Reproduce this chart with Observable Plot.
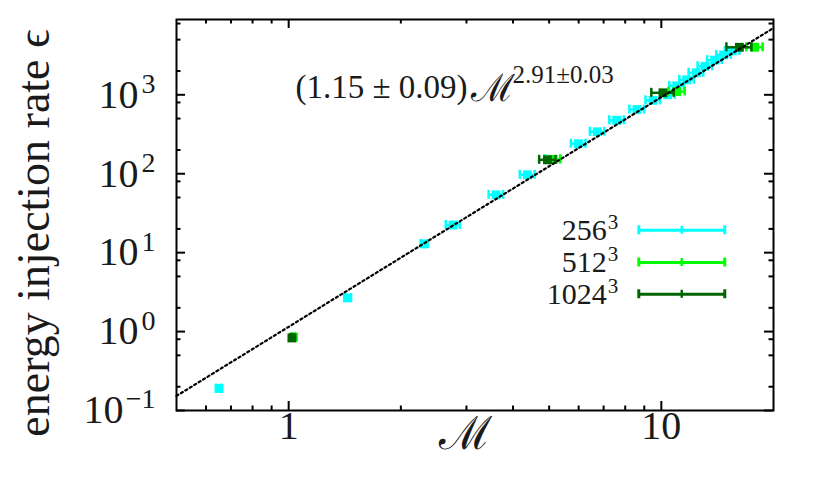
<!DOCTYPE html>
<html><head><meta charset="utf-8">
<script src="https://cdn.jsdelivr.net/npm/d3@7"></script>
<script src="https://cdn.jsdelivr.net/npm/@observablehq/plot@0.6"></script>
<style>
body{margin:0;background:#fff}
#chart svg{display:block}
</style>
</head><body><div id="chart"></div>
<script>
// ---- data ----
const M256   = [0.65, 1.44, 2.31, 2.76, 3.60, 4.37, 5.13, 5.99, 6.73, 7.59, 8.6, 9.5, 10.4, 11.0, 11.7, 12.4, 13.1, 13.9, 14.7, 15.5];
const eps256 = [0.19, 2.67, 12.9, 22.4, 54, 97, 152, 240, 340, 475, 650, 850, 1000, 1300, 1550, 1900, 2300, 2750, 3200, 3600];
const dM256  = [0.01, 0.03, 0.05, 0.12, 0.16, 0.2, 0.23, 0.27, 0.3, 0.34, 0.39, 0.43, 0.47, 0.5, 0.53, 0.56, 0.59, 0.63, 0.66, 0.7];

const M512   = [1.03, 5.1, 11.0, 17.8];
const eps512 = [0.85, 152, 1100, 4000];
const dM512  = [0.01, 0.25, 0.55, 0.9];

const M1024   = [1.02, 4.95, 10.1, 16.2];
const eps1024 = [0.83, 150, 1060, 4000];
const dM1024  = [0.01, 0.25, 0.7, 1.25];

const seriesLabels = ["256", "512", "1024"];
const seriesExp = "3";
const seriesColors = ["#00ffff", "#00ff00", "#006400"];

// fit  eps = A * M^B
const fitA = 1.15, fitB = 2.91;
const fitText = "(1.15 ± 0.09)";
const fitSymbol = "ℳ";
const fitExpText = "2.91±0.03";

// axes
const xDomain = [0.5, 20];
const yDomain = [0.1, 9000];
const xMajorTicks = [1, 10];
const xTickLabels = ["1", "10"];
const xMinorTicks = [0.6, 0.7, 0.8, 0.9, 2, 3, 4, 5, 6, 7, 8, 9];
const yMajorTicks = [0.1, 1, 10, 100, 1000];
const yTickBase = "10";
const yTickExp = ["−1", "0", "1", "2", "3"];
const yMinorTicks = [0.2, 0.5, 0.8, 2, 5, 8, 20, 50, 80, 200, 500, 800, 2000, 5000, 8000];
const xTitle = "ℳ";
const yTitle = "energy injection rate ϵ";

// legend placement (data space of the plot)
const legendLineM = [8.7, 14.8];
const legendEps = [19.2, 7.5, 2.97];

// ---- layout ----
const W = 815, H = 489;
const mL = 176, mR = 42, mT = 19, mB = 79;
const innerW = W - mL - mR, innerH = H - mT - mB;
const majorLen = 9, minorLen = 4.5;
const FONT = "'Liberation Serif', 'DejaVu Serif', serif";
const INK = "#1a1a1a";

const series = seriesLabels.map((name, k) => {
  const Ms = [M256, M512, M1024][k], Es = [eps256, eps512, eps1024][k], Ds = [dM256, dM512, dM1024][k];
  return {name, color: seriesColors[k],
    rows: Ms.map((m, i) => ({M: m, eps: Es[i], lo: m - Ds[i], hi: m + Ds[i]}))};
});

const marks = [];
// error bars + squares
for (const s of series) {
  marks.push(Plot.ruleY(s.rows, {x1: "lo", x2: "hi", y: "eps", stroke: s.color, strokeWidth: 2.5}));
  marks.push(Plot.ruleX(s.rows, {x: "lo", y1: "eps", y2: "eps", insetTop: -4.5, insetBottom: -4.5, stroke: s.color, strokeWidth: 2.5}));
  marks.push(Plot.ruleX(s.rows, {x: "hi", y1: "eps", y2: "eps", insetTop: -4.5, insetBottom: -4.5, stroke: s.color, strokeWidth: 2.5}));
  marks.push(Plot.dot(s.rows, {x: "M", y: "eps", symbol: "square", r: 5, fill: s.color, stroke: "none"}));
}
// fit line
const fitRows = xDomain.map(m => ({M: m, eps: fitA * Math.pow(m, fitB)}));
marks.push(Plot.line(fitRows, {x: "M", y: "eps", stroke: "black", strokeWidth: 2.2, strokeDasharray: "2.2,3"}));

// legend
series.forEach((s, k) => {
  const row = [{a: legendLineM[0], b: legendLineM[1], c: Math.sqrt(legendLineM[0] * legendLineM[1]), y: legendEps[k]}];
  marks.push(Plot.ruleY(row, {x1: "a", x2: "b", y: "y", stroke: s.color, strokeWidth: 3}));
  for (const key of ["a", "b"]) marks.push(Plot.ruleX(row, {x: key, y1: "y", y2: "y", insetTop: -4.5, insetBottom: -4.5, stroke: s.color, strokeWidth: 3}));
  marks.push(Plot.ruleX(row, {x: "c", y1: "y", y2: "y", insetTop: -4, insetBottom: -4, stroke: s.color, strokeWidth: 2.5}));
  marks.push(Plot.text(row, {x: "a", y: "y", text: () => s.name, textAnchor: "end", dx: -32, fontSize: 30, fontFamily: FONT, fill: INK}));
  marks.push(Plot.text(row, {x: "a", y: "y", text: () => seriesExp, textAnchor: "start", dx: -31, dy: -8, fontSize: 21, fontFamily: FONT, fill: INK}));
});

// ticks (inward, mirrored)
marks.push(Plot.ruleX(xMajorTicks, {x: d => d, insetTop: innerH - majorLen, strokeWidth: 2}));
marks.push(Plot.ruleX(xMajorTicks, {x: d => d, insetBottom: innerH - majorLen, strokeWidth: 2}));
marks.push(Plot.ruleX(xMinorTicks, {x: d => d, insetTop: innerH - minorLen, strokeWidth: 2}));
marks.push(Plot.ruleX(xMinorTicks, {x: d => d, insetBottom: innerH - minorLen, strokeWidth: 2}));
marks.push(Plot.ruleY(yMajorTicks, {y: d => d, insetRight: innerW - majorLen, strokeWidth: 2}));
marks.push(Plot.ruleY(yMajorTicks, {y: d => d, insetLeft: innerW - majorLen, strokeWidth: 2}));
marks.push(Plot.ruleY(yMinorTicks, {y: d => d, insetRight: innerW - minorLen, strokeWidth: 2}));
marks.push(Plot.ruleY(yMinorTicks, {y: d => d, insetLeft: innerW - minorLen, strokeWidth: 2}));
marks.push(Plot.frame({stroke: "black", strokeWidth: 2}));

// tick labels
marks.push(Plot.text(xMajorTicks, {x: d => d, text: (d, i) => xTickLabels[i], frameAnchor: "bottom", textAnchor: "middle", dy: 28, fontSize: 40, fontFamily: FONT, fill: INK}));
// y labels: base "10" + raised exponent, right-aligned as a whole
const yRows = yMajorTicks.map((v, i) => ({v, exp: yTickExp[i]}));
const shortExp = yRows.filter(d => d.exp.length === 1), longExp = yRows.filter(d => d.exp.length > 1);
marks.push(Plot.text(yRows, {y: "v", text: "exp", frameAnchor: "left", textAnchor: "end", dx: -21, dy: -11, fontSize: 28, fontFamily: FONT, fill: INK}));
marks.push(Plot.text(shortExp, {y: "v", text: () => yTickBase, frameAnchor: "left", textAnchor: "end", dx: -38, fontSize: 40, fontFamily: FONT, fill: INK}));
marks.push(Plot.text(longExp, {y: "v", text: () => yTickBase, frameAnchor: "left", textAnchor: "end", dx: -53, fontSize: 40, fontFamily: FONT, fill: INK}));

// titles
marks.push(Plot.text([xTitle], {frameAnchor: "bottom", textAnchor: "middle", dx: -10, dy: 38, fontSize: 46, fontFamily: FONT, fill: INK}));
marks.push(Plot.text([yTitle], {frameAnchor: "left", textAnchor: "middle", rotate: -90, dx: -142, dy: 18, fontSize: 46, fontFamily: FONT, fill: INK}));

// fit annotation
marks.push(Plot.text([fitText], {frameAnchor: "top-left", textAnchor: "end", dx: 291, dy: 55, fontSize: 33, fontFamily: FONT, fill: INK}));
marks.push(Plot.text([fitSymbol], {frameAnchor: "top-left", textAnchor: "start", dx: 294, dy: 55, fontSize: 38, fontFamily: FONT, fill: INK}));
marks.push(Plot.text([fitExpText], {frameAnchor: "top-left", textAnchor: "start", dx: 336, dy: 46, fontSize: 25, fontFamily: FONT, fill: INK}));

const chart = Plot.plot({
  width: W, height: H,
  marginLeft: mL, marginRight: mR, marginTop: mT, marginBottom: mB,
  x: {type: "log", domain: xDomain, axis: null},
  y: {type: "log", domain: yDomain, axis: null},
  style: {background: "#fff", fontFamily: FONT},
  marks
});
document.getElementById("chart").appendChild(chart);
</script>
</body></html>
